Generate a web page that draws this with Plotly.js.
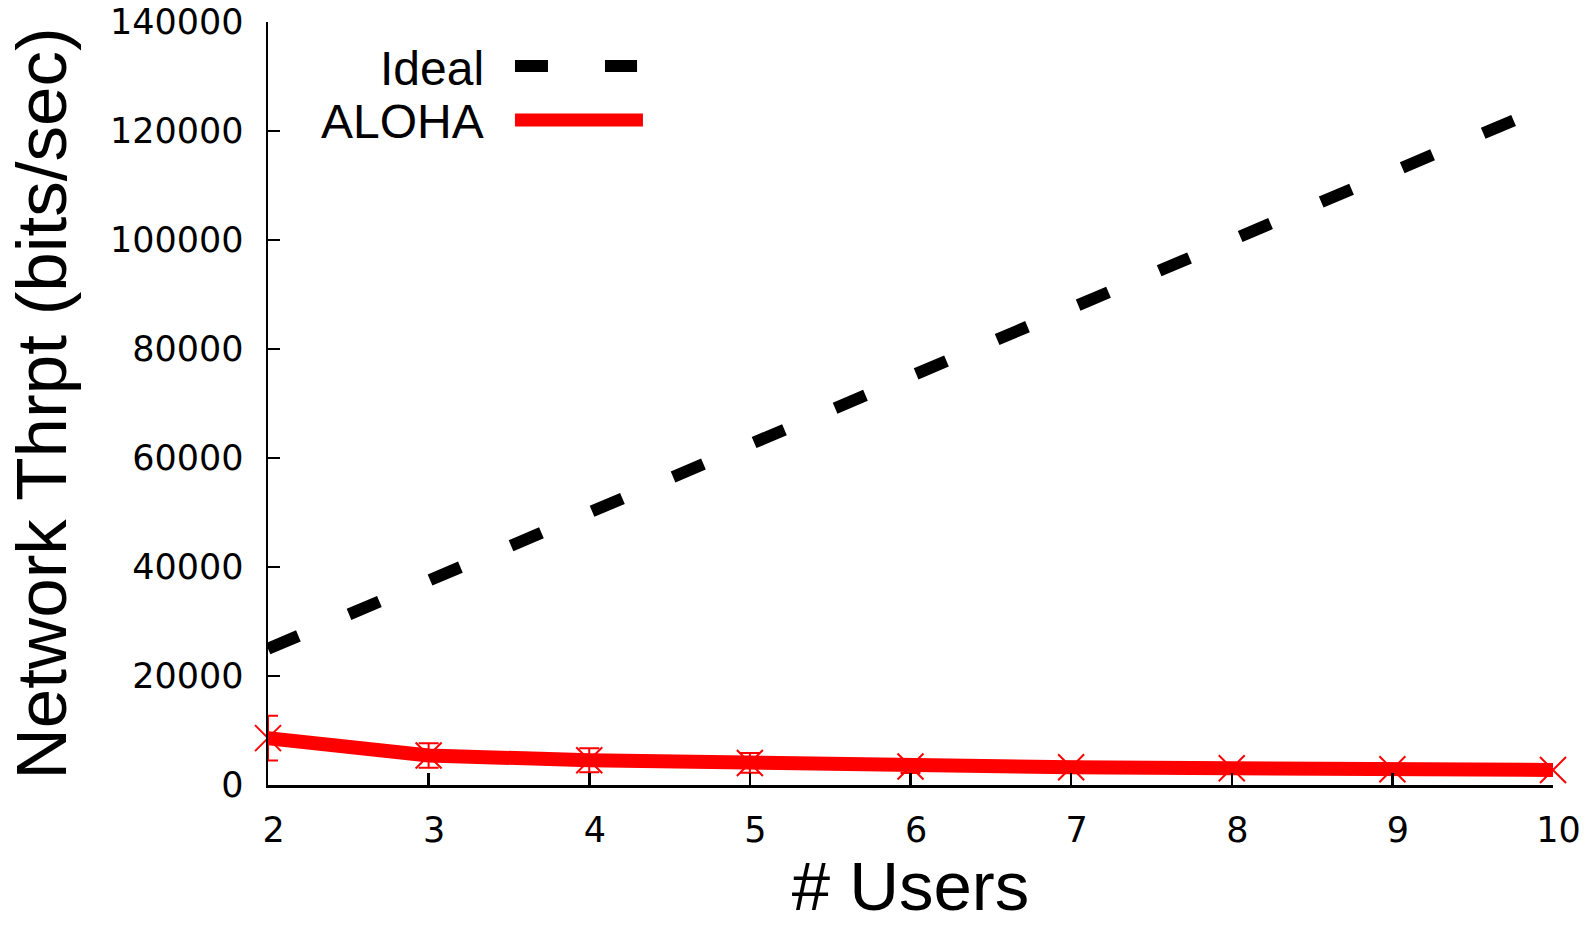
<!DOCTYPE html>
<html>
<head>
<meta charset="utf-8">
<script src="https://cdn.plot.ly/plotly-3.0.1.min.js"></script>
<style>html,body{margin:0;padding:0;background:#fff;}#chart{width:1595px;height:925px;}</style>
</head>
<body>
<div id="chart"></div>
<script>
const users = [2, 3, 4, 5, 6, 7, 8, 9, 10];
const idealThrpt = [25000, 37500, 50000, 62500, 75000, 87500, 100000, 112500, 125000];
const alohaThrpt = [8600, 5400, 4550, 4050, 3400, 3250, 3080, 2900, 2750];
const alohaErr = [4100, 2250, 2200, 1800, 1200, 1000, 900, 800, 700];
const yTicks = [0, 20000, 40000, 60000, 80000, 100000, 120000, 140000];
const xTicks = [2, 3, 4, 5, 6, 7, 8, 9, 10];

const traces = [
  {
    x: users, y: idealThrpt, name: 'Ideal', type: 'scatter', mode: 'lines',
    line: {color: '#000000', width: 12, dash: '33px,55px'},
    showlegend: false, cliponaxis: false
  },
  {
    x: users, y: alohaThrpt, name: 'ALOHA', type: 'scatter', mode: 'lines+markers',
    line: {color: '#ff0000', width: 14},
    marker: {symbol: 'x-thin-open', size: 26, color: '#ff0000', line: {color: '#ff0000', width: 2}},
    error_y: {type: 'data', array: alohaErr, visible: true, color: '#ff0000', thickness: 2, width: 10},
    showlegend: false, cliponaxis: false
  }
];

const layout = {
  width: 1595, height: 925,
  margin: {l: 268, r: 42, t: 22, b: 140},
  paper_bgcolor: '#ffffff', plot_bgcolor: '#ffffff',
  showlegend: false,
  xaxis: {
    range: [2, 10], tickvals: xTicks, ticktext: xTicks.map(v => '\u00A0' + v),
    ticks: 'inside', ticklen: 12, tickwidth: 2.5, tickcolor: '#000',
    showline: true, linecolor: '#000', linewidth: 2.5, mirror: false,
    showgrid: false, zeroline: false,
    tickfont: {family: 'DejaVu Sans', size: 35, color: '#000'},
    ticklabelstandoff: 12,
    title: {text: '# Users', font: {family: 'Liberation Sans', size: 69, color: '#000'}, standoff: 22}
  },
  yaxis: {
    range: [0, 140000], tickvals: yTicks, ticktext: yTicks.map(String),
    ticks: 'inside', ticklen: 12, tickwidth: 2.5, tickcolor: '#000',
    showline: true, linecolor: '#000', linewidth: 2.5, mirror: false,
    showgrid: false, zeroline: false,
    tickfont: {family: 'DejaVu Sans', size: 35, color: '#000'},
    ticklabelstandoff: 15,
    title: {text: 'Network Thrpt (bits/sec)', font: {family: 'Liberation Sans', size: 71, color: '#000'}, standoff: 20}
  },
  shapes: [
    {type: 'line', xref: 'paper', yref: 'paper', x0: 0.1922, x1: 0.2872, y0: 0.9423, y1: 0.9423,
     line: {color: '#000', width: 12, dash: '33px,57px'}},
    {type: 'line', xref: 'paper', yref: 'paper', x0: 0.1922, x1: 0.2918, y0: 0.8716, y1: 0.8716,
     line: {color: '#ff0000', width: 13}}
  ],
  annotations: [
    {text: 'Ideal', xref: 'paper', yref: 'paper', x: 0.1696, y: 0.9397, xanchor: 'right', yanchor: 'middle',
     showarrow: false, font: {family: 'Liberation Sans', size: 48, color: '#000'}},
    {text: 'ALOHA', xref: 'paper', yref: 'paper', x: 0.1696, y: 0.869, xanchor: 'right', yanchor: 'middle',
     showarrow: false, font: {family: 'Liberation Sans', size: 48, color: '#000'}}
  ]
};

Plotly.newPlot('chart', traces, layout, {displayModeBar: false, staticPlot: true});
</script>
</body>
</html>
